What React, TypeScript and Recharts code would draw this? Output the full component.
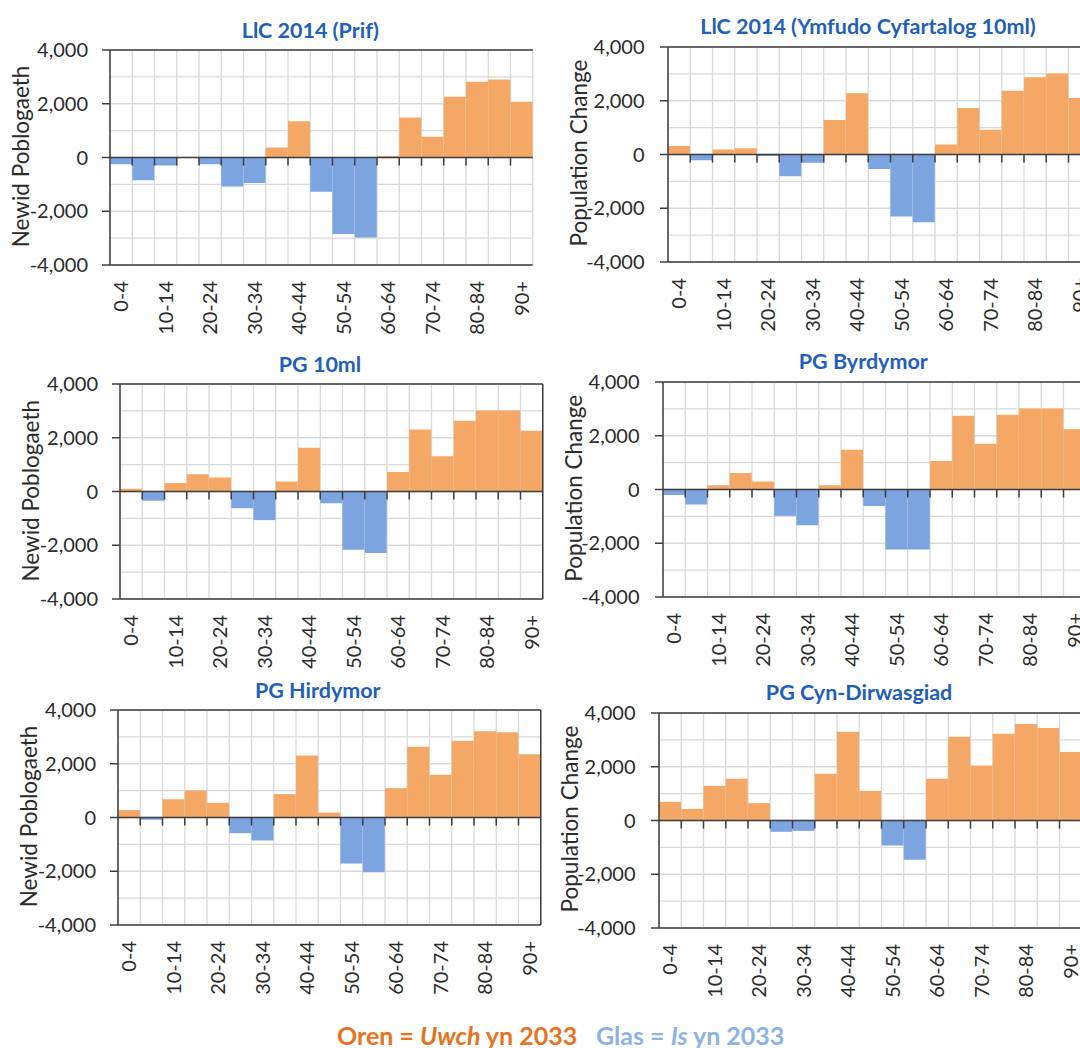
import React from 'react';
import { BarChart, Bar, XAxis, YAxis, CartesianGrid, ReferenceLine, Cell } from 'recharts';

// ---------- data ----------
const ageGroups = ['0-4', '5-9', '10-14', '15-19', '20-24', '25-29', '30-34', '35-39', '40-44', '45-49', '50-54', '55-59', '60-64', '65-69', '70-74', '75-79', '80-84', '85-89', '90+'];

const prif = [-250, -850, -300, -15, -250, -1080, -950, 370, 1350, -1270, -2850, -2980, 60, 1490, 770, 2260, 2820, 2900, 2075];
const ymfudo = [320, -210, 190, 235, -60, -810, -310, 1280, 2275, -535, -2310, -2525, 375, 1730, 920, 2375, 2870, 3010, 2100];
const pg10 = [100, -345, 320, 645, 520, -620, -1065, 370, 1630, -435, -2165, -2285, 730, 2310, 1310, 2635, 3015, 3015, 2260];
const byrdymor = [-200, -560, 160, 610, 300, -980, -1330, 160, 1475, -610, -2235, -2235, 1065, 2740, 1700, 2780, 3015, 3015, 2245];
const hirdymor = [275, -85, 680, 1005, 545, -585, -855, 870, 2310, 185, -1710, -2035, 1090, 2630, 1590, 2855, 3210, 3175, 2355];
const cynDirwasgiad = [695, 435, 1290, 1550, 645, -420, -385, 1735, 3305, 1100, -930, -1460, 1550, 3120, 2045, 3230, 3590, 3445, 2550];

const panelTitles = ['LlC 2014 (Prif)', 'LlC 2014 (Ymfudo Cyfartalog 10ml)', 'PG 10ml', 'PG Byrdymor', 'PG Hirdymor', 'PG Cyn-Dirwasgiad'];
const yAxisTitles = ['Newid Poblogaeth', 'Population Change', 'Newid Poblogaeth', 'Population Change', 'Newid Poblogaeth', 'Population Change'];

const yTicks = [-4000, -2000, 0, 2000, 4000];
const yGridTicks = [-4000, -3000, -2000, -1000, 0, 1000, 2000, 3000, 4000];
const yDomain = [-4000, 4000];
const tickMarkDepth = 300;

const legendOrange = ['Oren = ', 'Uwch', ' yn 2033'];
const legendBlue = ['Glas = ', 'Is', ' yn 2033'];

// ---------- style ----------
const ORANGE = '#F5A865';
const BLUE = '#7CA4E0';
const AXIS = '#3f3f3f';
const GRID = '#D9D9D9';
const TEXT = '#2b2b2b';
const TITLE = '#1F60B8';
const FONT = 'Lato, "Open Sans", sans-serif';

const PLOT_W = 422.75;
const PLOT_H = 215;
const ML = 110;
const MT = 50;
const MR = 12;
const MB = 70;

const layout = [
  { left: 110.3, top: 50, tm: 14, darkRight: false },
  { left: 668, top: 46.5, tm: 15.5, darkRight: false },
  { left: 120, top: 384.3, tm: 14, darkRight: true },
  { left: 663.3, top: 381.7, tm: 15.5, darkRight: false },
  { left: 117.8, top: 710, tm: 14, darkRight: true },
  { left: 659.1, top: 712.5, tm: 15.5, darkRight: false },
];

const seriesList = [prif, ymfudo, pg10, byrdymor, hirdymor, cynDirwasgiad];
const boundaries = ageGroups.map((_, i) => i).concat([ageGroups.length]);

const fmt = (v: number) => v.toLocaleString('en-US');

const AgeTick = (props: any) => {
  const { x, y, payload } = props;
  const ty = y + 16;
  return (
    <text
      x={x}
      y={ty}
      transform={`rotate(-90, ${x}, ${ty})`}
      textAnchor="end"
      dy="0.36em"
      fontSize={20}
      fill={TEXT}
      fontFamily={FONT}
    >
      {payload.value}
    </text>
  );
};

function Panel({ values, left, top, tm, darkRight }: any) {
  const data = ageGroups.map((age, i) => ({ age, idx: i, value: values[i] }));
  const w = ML + PLOT_W + MR;
  const h = MT + PLOT_H + MB;
  return (
    <div style={{ position: 'absolute', left: left - ML, top: top - MT, width: w, height: h }}>
      <BarChart
        width={w}
        height={h}
        data={data}
        margin={{ top: MT, right: MR, left: 0, bottom: 0 }}
        barCategoryGap={0}
        barGap={0}
      >
        <XAxis xAxisId="num" type="number" dataKey="idx" domain={[0, ageGroups.length]} ticks={boundaries} hide allowDataOverflow />
        <YAxis yAxisId="grid" type="number" domain={yDomain} ticks={yGridTicks} hide allowDataOverflow />
        <CartesianGrid xAxisId="num" yAxisId="grid" stroke={GRID} strokeWidth={1.3} />
        <XAxis
          dataKey="age"
          height={MB}
          interval={1}
          tickLine={false}
          tickSize={0}
          tickMargin={0}
          axisLine={{ stroke: AXIS, strokeWidth: 1.5 }}
          tick={<AgeTick />}
        />
        <YAxis
          width={ML}
          type="number"
          domain={yDomain}
          ticks={yTicks}
          allowDataOverflow
          tickSize={8}
          tickMargin={tm}
          tickFormatter={fmt}
          axisLine={{ stroke: AXIS, strokeWidth: 1.5 }}
          tickLine={{ stroke: AXIS, strokeWidth: 1.5 }}
          tick={{ fontSize: 20, fill: TEXT, fontFamily: FONT }}
        />
        <Bar dataKey="value" isAnimationActive={false}>
          {data.map((d, i) => (
            <Cell key={i} fill={d.value >= 0 ? ORANGE : BLUE} />
          ))}
        </Bar>
        <ReferenceLine y={0} stroke={AXIS} strokeWidth={1.5} />
        <ReferenceLine y={yDomain[1]} stroke={AXIS} strokeWidth={1.5} />
        {darkRight && <ReferenceLine xAxisId="num" x={ageGroups.length} stroke={AXIS} strokeWidth={1.5} />}
        {boundaries.slice(1, ageGroups.length).map((b) => (
          <ReferenceLine
            key={'t' + b}
            xAxisId="num"
            segment={[{ x: b, y: 0 }, { x: b, y: -tickMarkDepth }]}
            stroke={AXIS}
            strokeWidth={1.5}
          />
        ))}
      </BarChart>
    </div>
  );
}

export default function App() {
  return (
    <div
      style={{
        position: 'absolute',
        left: 0,
        top: 0,
        width: 1080,
        height: 1048,
        overflow: 'hidden',
        background: '#fff',
        fontFamily: FONT,
      }}
    >
      {layout.map((p, i) => (
        <Panel key={i} values={seriesList[i]} left={p.left} top={p.top} tm={p.tm} darkRight={p.darkRight} />
      ))}
      <svg width={1080} height={1048} style={{ position: 'absolute', left: 0, top: 0, pointerEvents: 'none' }}>
        {layout.map((p, i) => (
          <g key={i}>
            <text
              x={p.left + 200}
              y={p.top - 12.5}
              textAnchor="middle"
              fontSize={21.5}
              fontWeight={700}
              fill={TITLE}
              fontFamily={FONT}
            >
              {panelTitles[i]}
            </text>
            <text
              x={p.left - 81}
              y={p.top + PLOT_H / 2 - 1}
              transform={`rotate(-90, ${p.left - 81}, ${p.top + PLOT_H / 2 - 1})`}
              textAnchor="middle"
              fontSize={22.5}
              fill={TEXT}
              fontFamily={FONT}
            >
              {yAxisTitles[i]}
            </text>
          </g>
        ))}
        <text x={337} y={1045} fontSize={25} fontWeight={700} fill="#E8731E" fontFamily={FONT}>
          <tspan>{legendOrange[0]}</tspan>
          <tspan fontStyle="italic">{legendOrange[1]}</tspan>
          <tspan>{legendOrange[2]}</tspan>
        </text>
        <text x={596} y={1045} fontSize={25} fontWeight={700} fill="#8DB3E2" fontFamily={FONT}>
          <tspan>{legendBlue[0]}</tspan>
          <tspan fontStyle="italic">{legendBlue[1]}</tspan>
          <tspan>{legendBlue[2]}</tspan>
        </text>
      </svg>
    </div>
  );
}
